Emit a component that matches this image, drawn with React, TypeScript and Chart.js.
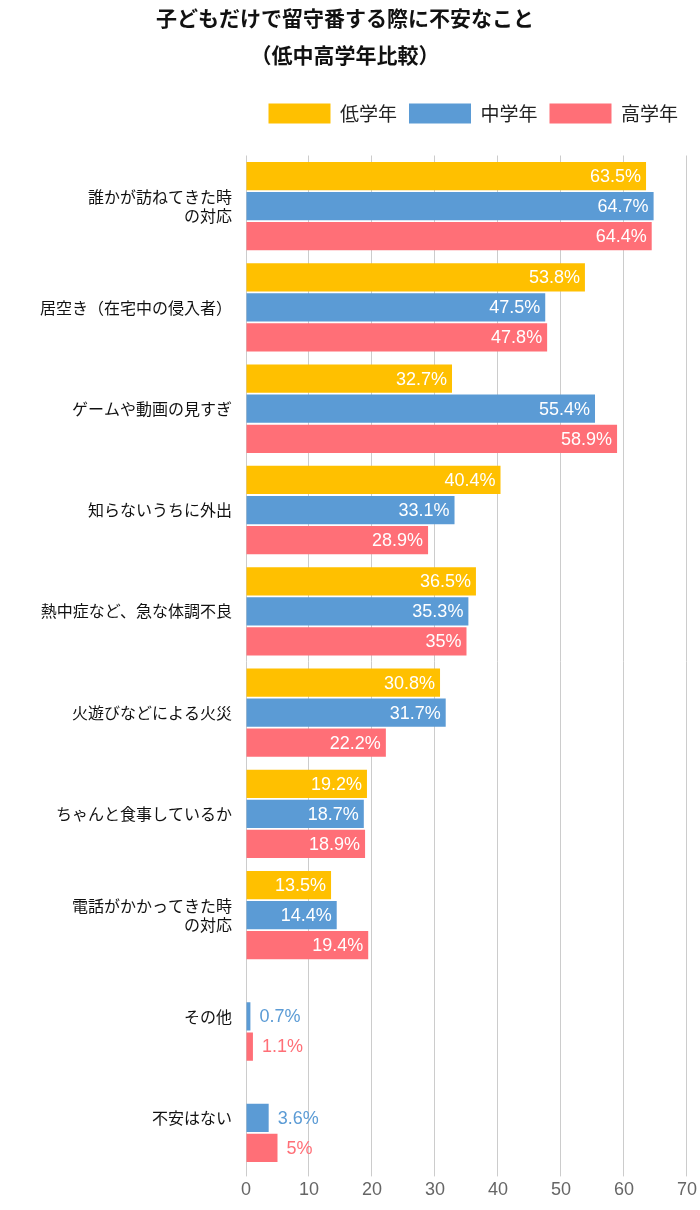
import React, { useEffect, useRef } from "react";
import { Chart, registerables } from "chart.js";
Chart.register(...registerables);

const categories: (string | string[])[] = [
  ["誰かが訪ねてきた時", "の対応"],
  "居空き（在宅中の侵入者）",
  "ゲームや動画の見すぎ",
  "知らないうちに外出",
  "熱中症など、急な体調不良",
  "火遊びなどによる火災",
  "ちゃんと食事しているか",
  ["電話がかかってきた時", "の対応"],
  "その他",
  "不安はない",
];
const lowGrade = [63.5, 53.8, 32.7, 40.4, 36.5, 30.8, 19.2, 13.5, null, null];
const midGrade = [64.7, 47.5, 55.4, 33.1, 35.3, 31.7, 18.7, 14.4, 0.7, 3.6];
const highGrade = [64.4, 47.8, 58.9, 28.9, 35, 22.2, 18.9, 19.4, 1.1, 5];
const seriesNames = ["低学年", "中学年", "高学年"];
const colors = ["#FFC000", "#5B9BD5", "#FF6F77"];
const FONT = "'Liberation Sans', 'Noto Sans CJK JP', sans-serif";

const labelPlugin = {
  id: "barLabels",
  beforeInit(chart: any) {
    const lg = chart.legend;
    if (lg) {
      const orig = lg.fit;
      lg.fit = function () {
        orig.call(this);
        this.height += 22;
      };
    }
  },
  afterDatasetsDraw(chart: any) {
    const ctx = chart.ctx;
    ctx.save();
    ctx.font = `18px ${FONT}`;
    ctx.textBaseline = "middle";
    chart.data.datasets.forEach((ds: any, di: number) => {
      const meta = chart.getDatasetMeta(di);
      meta.data.forEach((el: any, i: number) => {
        const v = ds.data[i];
        if (v === null || v === undefined) return;
        const t = v + "%";
        const tw = ctx.measureText(t).width;
        const w = el.x - el.base;
        if (w > tw + 10) {
          ctx.fillStyle = "#fff";
          ctx.textAlign = "right";
          ctx.fillText(t, el.x - 5, el.y + 1);
        } else {
          ctx.fillStyle = colors[di];
          ctx.textAlign = "left";
          ctx.fillText(t, el.x + 9, el.y + 1);
        }
      });
    });
    ctx.restore();
  },
};

export default function App() {
  const ref = useRef<HTMLCanvasElement>(null);
  useEffect(() => {
    const chart = new Chart(ref.current!, {
      type: "bar",
      data: {
        labels: categories,
        datasets: [lowGrade, midGrade, highGrade].map((d, i) => ({
          label: seriesNames[i],
          data: d as any,
          backgroundColor: colors[i],
          categoryPercentage: 0.89,
          barPercentage: 0.94,
        })),
      },
      options: {
        indexAxis: "y",
        animation: false,
        responsive: false,
        layout: { padding: { right: 10, bottom: 6 } },
        plugins: {
          title: {
            display: true,
            text: ["子どもだけで留守番する際に不安なこと", "（低中高学年比較）"],
            color: "#111",
            font: { family: "'Noto Sans CJK JP', sans-serif", size: 21, weight: "bold", lineHeight: 1.75 },
            padding: { top: 0, bottom: 18 },
          },
          legend: {
            align: "end",
            labels: {
              boxWidth: 62,
              boxHeight: 20,
              color: "#222",
              font: { family: "'Noto Sans CJK JP', sans-serif", size: 19 },
              padding: 12,
            },
          },
          tooltip: { enabled: false },
        },
        scales: {
          x: {
            min: 0,
            max: 70,
            ticks: { stepSize: 10, color: "#666", font: { family: FONT, size: 18 } },
            grid: { color: "#cccccc" },
            border: { display: false },
          },
          y: {
            ticks: { color: "#111", font: { family: "'Noto Sans CJK JP', sans-serif", size: 16 }, padding: 6 },
            grid: { display: false },
            border: { display: false },
            afterFit: (s: any) => {
              s.width = 246;
            },
          },
        },
      },
      plugins: [labelPlugin],
    } as any);
    return () => chart.destroy();
  }, []);
  return (
    <div style={{ position: "absolute", left: 0, top: 0, width: 700, height: 1210, background: "#fff" }}>
      <canvas ref={ref} width={700} height={1210} />
    </div>
  );
}
